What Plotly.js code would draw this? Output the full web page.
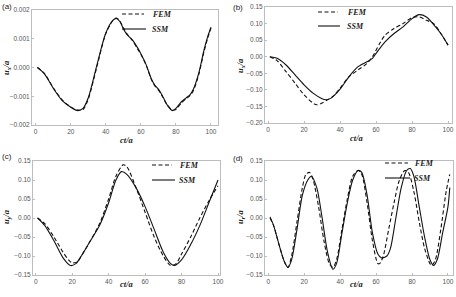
<!DOCTYPE html>
<html><head><meta charset="utf-8">
<script src="https://cdn.plot.ly/plotly-3.0.1.min.js"></script>
<style>html,body{margin:0;padding:0;background:#fff}#chart{width:456px;height:297px}</style>
</head><body><div id="chart"></div>
<script>
// Panel (a)
const aX_SSM = [1,5,10,15,20,24,27,30,35,40,44,46,48,50,52,55,58,60,63,66,68,70,72,75,78,80,83,86,88,90,93,96,98,100];
const aY_SSM = [0,-0.00022,-0.00072,-0.00114,-0.00138,-0.0015,-0.00142,-0.00105,0.0001,0.0012,0.00164,0.00171,0.0016,0.00135,0.00115,0.00097,0.0007,0.00048,0.0001,-0.0004,-0.00062,-0.00075,-0.00095,-0.0013,-0.0015,-0.00142,-0.0012,-0.00105,-0.00095,-0.00075,-0.0002,0.0006,0.00105,0.0014];
const aX_FEM = [1,5,10,15,20,24,27,30,35,40,44,46,48,50,52,55,58,60,63,66,68,70,72,75,78,80,83,86,88,90,93,96,98,100];
const aY_FEM = [0,-0.00021,-0.0007,-0.00112,-0.00137,-0.00148,-0.00146,-0.0011,0.00005,0.00118,0.00163,0.00172,0.00162,0.00138,0.00118,0.00095,0.00066,0.00046,0.00008,-0.00042,-0.00064,-0.00078,-0.00098,-0.0013,-0.00148,-0.00146,-0.00124,-0.00108,-0.00098,-0.0008,-0.00025,0.00055,0.001,0.00138];
// Panel (b)
const bX_SSM = [1,5,10,15,20,25,30,32,35,40,45,50,55,58,60,65,70,75,80,84,88,92,96,100];
const bY_SSM = [0,-0.005,-0.025,-0.055,-0.085,-0.11,-0.127,-0.13,-0.125,-0.098,-0.06,-0.03,-0.015,-0.005,0.01,0.045,0.07,0.09,0.115,0.127,0.12,0.097,0.07,0.035];
const bX_FEM = [1,5,10,15,20,25,27,30,33,36,40,45,50,55,58,62,65,70,75,80,84,88,92,96,100];
const bY_FEM = [0,-0.012,-0.045,-0.08,-0.115,-0.14,-0.145,-0.14,-0.13,-0.12,-0.095,-0.06,-0.04,-0.02,0.0,0.04,0.065,0.085,0.1,0.118,0.12,0.11,0.1,0.07,0.035];
// Panel (c)
const cX_SSM = [1,5,10,15,19,22,25,30,35,40,44,47,50,55,60,65,70,74,76,80,85,90,95,100];
const cY_SSM = [0,-0.02,-0.06,-0.105,-0.125,-0.12,-0.1,-0.06,-0.02,0.04,0.1,0.122,0.115,0.08,0.03,-0.03,-0.09,-0.12,-0.125,-0.11,-0.07,-0.02,0.04,0.1];
const cX_FEM = [1,5,10,15,18,20,23,25,30,35,40,44,48,50,55,60,65,70,74,77,80,85,90,95,100];
const cY_FEM = [0,-0.015,-0.05,-0.09,-0.11,-0.118,-0.115,-0.1,-0.06,-0.015,0.05,0.11,0.14,0.135,0.08,0.015,-0.05,-0.1,-0.125,-0.12,-0.095,-0.05,0.0,0.045,0.085];
// Panel (d)
const dX_SSM = [1,3,6,9,11,13,16,19,22,24,27,30,33,36,38,41,44,47,50,52,55,58,61,63,66,68,71,74,77,79,81,84,87,90,92,94,97,100,101];
const dY_SSM = [0.003,-0.02,-0.07,-0.115,-0.13,-0.11,-0.03,0.06,0.1,0.11,0.08,0.0,-0.09,-0.135,-0.12,-0.04,0.04,0.1,0.125,0.12,0.06,-0.04,-0.095,-0.105,-0.1,-0.08,0.0,0.08,0.125,0.13,0.11,0.03,-0.05,-0.11,-0.125,-0.11,-0.04,0.03,0.08];
const dX_FEM = [1,3,6,9,11,13,16,19,21,23,25,28,31,34,36,38,41,44,47,50,52,55,58,61,62,64,67,70,73,76,78,81,84,87,90,91,93,96,99,101];
const dY_FEM = [0,-0.02,-0.07,-0.115,-0.13,-0.1,-0.01,0.08,0.115,0.12,0.1,0.03,-0.06,-0.12,-0.13,-0.11,-0.03,0.05,0.11,0.125,0.115,0.04,-0.06,-0.12,-0.12,-0.1,-0.03,0.04,0.1,0.125,0.12,0.07,-0.01,-0.08,-0.12,-0.125,-0.11,-0.03,0.07,0.115];

const xTickVals = [0,20,40,60,80,100];
const aYTicks = [-0.002,-0.001,0,0.001,0.002];
const bYTicks = [-0.2,-0.15,-0.1,-0.05,0,0.05,0.1,0.15];
const cdYTicks = [-0.15,-0.1,-0.05,0,0.05,0.1,0.15];
const yTitles = ['u<sub>x</sub>/a','u<sub>x</sub>/a','u<sub>y</sub>/a','u<sub>r</sub>/a'];
const xTitle = 'ct/a';
const seriesNames = ['FEM','SSM'];
const panelLabels = ['(a)','(b)','(c)','(d)'];

const W=456,H=297;
const px = v=>v/W, py = v=>1-v/H;

const solid = {color:'#111',width:1.1,shape:'spline',smoothing:0.8};
const dashed = {color:'#111',width:1.1,dash:'4px,2.5px',shape:'spline',smoothing:0.8};
const sets = [
 [aX_FEM,aY_FEM,aX_SSM,aY_SSM],
 [bX_FEM,bY_FEM,bX_SSM,bY_SSM],
 [cX_FEM,cY_FEM,cX_SSM,cY_SSM],
 [dX_FEM,dY_FEM,dX_SSM,dY_SSM]
];
const traces=[];
sets.forEach((s,i)=>{
  const n = i===0?'':String(i+1);
  traces.push({x:s[0],y:s[1],mode:'lines',line:dashed,name:seriesNames[0],xaxis:'x'+n,yaxis:'y'+n,showlegend:false});
  traces.push({x:s[2],y:s[3],mode:'lines',line:solid,name:seriesNames[1],xaxis:'x'+n,yaxis:'y'+n,showlegend:false});
});

const tickFont = {family:'Liberation Sans, Arial, sans-serif',size:6.5,color:'#555'};
function xa(dom,range,anchor){return {domain:dom,range:range,anchor:anchor,tickvals:xTickVals,showgrid:false,zeroline:false,showline:true,mirror:true,linecolor:'#bdbdbd',linewidth:1,ticks:'inside',ticklen:2,tickcolor:'#bdbdbd',tickfont:tickFont};}
function ya(dom,range,anchor,tv,fmt){return {domain:dom,range:range,anchor:anchor,tickvals:tv,tickformat:fmt,showgrid:false,zeroline:false,showline:true,mirror:true,linecolor:'#bdbdbd',linewidth:1,ticks:'inside',ticklen:2,tickcolor:'#bdbdbd',tickfont:tickFont};}

const serifFont = {family:'Liberation Serif, Times New Roman, serif',size:8,color:'#222',style:'italic',weight:'bold'};
const titleFont = {family:'Liberation Serif, Times New Roman, serif',size:8.5,color:'#222',style:'italic',weight:'bold'};
const annotations=[], shapes=[];
const ytPos = [[6,68],[240,66],[6,217],[240,217]];
const xtPos = [[127,140],[356,138],[127,284],[356,284]];
const lbPos = [[0,0],[231,1],[0,150],[231,152]];
// legend: [lineStart, lineEnd(dashed), lineEnd(solid), textX, yFEM, ySSM]
const legPos = [[122,144,146,150,14,29],[318,338,340,345,12,26],[152,172,175,177,165,180],[385,408,410,412,163,178]];
for(let i=0;i<4;i++){
  annotations.push({text:yTitles[i],x:px(ytPos[i][0]),y:py(ytPos[i][1]),xref:'paper',yref:'paper',showarrow:false,textangle:-90,font:titleFont,xanchor:'center',yanchor:'middle'});
  annotations.push({text:xTitle,x:px(xtPos[i][0]),y:py(xtPos[i][1]),xref:'paper',yref:'paper',showarrow:false,font:titleFont,xanchor:'center',yanchor:'middle'});
  annotations.push({text:panelLabels[i],x:px(lbPos[i][0]),y:py(lbPos[i][1]),xref:'paper',yref:'paper',showarrow:false,font:{family:'Liberation Sans, Arial, sans-serif',size:8,color:'#222'},xanchor:'left',yanchor:'top'});
  const L=legPos[i];
  shapes.push({type:'line',xref:'paper',yref:'paper',x0:px(L[0]),x1:px(L[1]),y0:py(L[4]),y1:py(L[4]),line:{color:'#111',width:1.1,dash:'4px,2.5px'}});
  shapes.push({type:'line',xref:'paper',yref:'paper',x0:px(L[0]),x1:px(L[2]),y0:py(L[5]),y1:py(L[5]),line:{color:'#111',width:1.1}});
  annotations.push({text:seriesNames[0],x:px(L[3]),y:py(L[4]),xref:'paper',yref:'paper',showarrow:false,font:serifFont,xanchor:'left',yanchor:'middle'});
  annotations.push({text:seriesNames[1],x:px(L[3]),y:py(L[5]),xref:'paper',yref:'paper',showarrow:false,font:serifFont,xanchor:'left',yanchor:'middle'});
}

const layout = {
  width:W,height:H,margin:{l:0,r:0,t:0,b:0},paper_bgcolor:'#fff',plot_bgcolor:'#fff',
  showlegend:false,
  xaxis: xa([px(32),px(218)],[-2.1,104],'y'),
  yaxis: ya([py(125),py(10)],[-0.002,0.002],'x',aYTicks,'.3f'),
  xaxis2: xa([px(265),px(452)],[-1.7,102.2],'y2'),
  yaxis2: ya([py(123),py(7)],[-0.2,0.15],'x2',bYTicks,'.2f'),
  xaxis3: xa([px(33),px(220)],[-1.5,101.1],'y3'),
  yaxis3: ya([py(275),py(161)],[-0.15,0.15],'x3',cdYTicks,'.2f'),
  xaxis4: xa([px(265),px(453)],[-1.8,102.8],'y4'),
  yaxis4: ya([py(275),py(161)],[-0.15,0.15],'x4',cdYTicks,'.2f'),
  annotations:annotations, shapes:shapes
};
Plotly.newPlot('chart',traces,layout,{staticPlot:true,displayModeBar:false});
</script></body></html>
